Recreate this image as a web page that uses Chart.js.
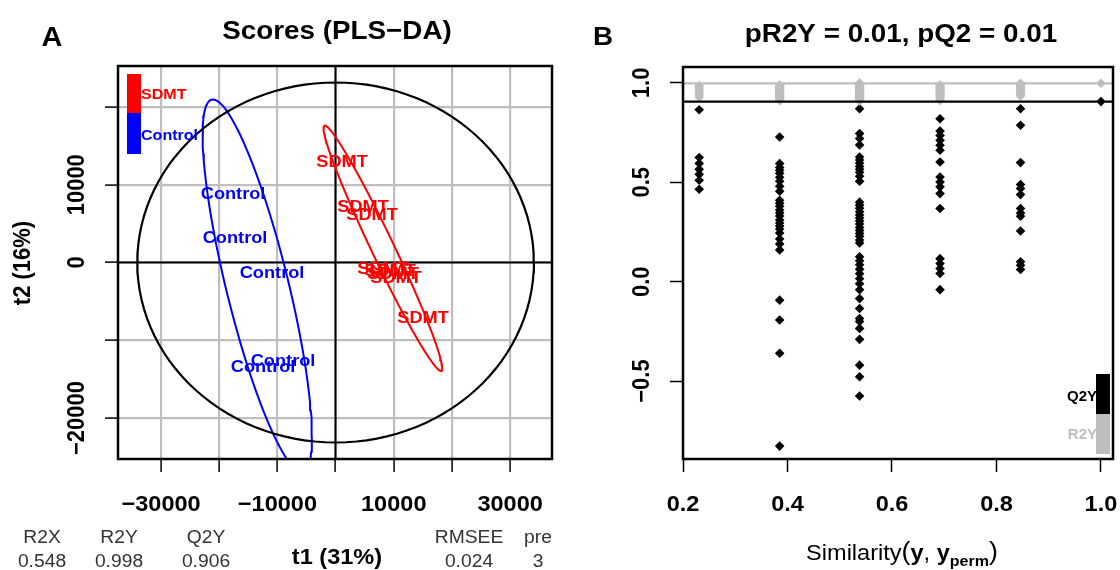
<!DOCTYPE html>
<html>
<head>
<meta charset="utf-8">
<script src="https://cdn.jsdelivr.net/npm/chart.js@4.4.1/dist/chart.umd.min.js"></script>
<style>
  html, body { margin: 0; padding: 0; background: #fff; }
  #wrap { position: relative; width: 1120px; height: 570px; overflow: hidden; background: #fff; }
  canvas { position: absolute; top: 0; }
  #scoresCanvas { left: 0; }
  #permCanvas { left: 560px; }
</style>
</head>
<body>
<div id="wrap">
  <canvas id="scoresCanvas" width="560" height="570"></canvas>
  <canvas id="permCanvas" width="560" height="570"></canvas>
</div>
<script>
// ✅ A: PLS-DA スコア (t1, t2)
const controlT1 = [-17620, -17280, -10920, -9030, -12460];
const controlT2 = [8940, 3280, -1220, -12540, -13310];
// SDMT は中央付近でラベルが 4 つ重なっている
const sdmtT1 = [1120, 4730, 6280, 8170, 9370, 9880, 10400, 15040];
const sdmtT2 = [13050, 7270, 6240, -710, -960, -1350, -1860, -7010];

const t1Ticks = [-30000, -20000, -10000, 0, 10000, 20000, 30000];
const t1TickLabels = ['\u221230000', '', '\u221210000', '', '10000', '', '30000'];
const t2Ticks = [-20000, -10000, 0, 10000, 20000];
const t2TickLabels = ['\u221220000', '', '0', '10000', ''];

const modelStatNames = ['R2X', 'R2Y', 'Q2Y', 'RMSEE', 'pre'];
const modelStatValues = ['0.548', '0.998', '0.906', '0.024', '3'];

// ✅ B: 並べ替え検定 (similarity ごとの R2Y / Q2Y)
const simValues = [0.231, 0.385, 0.538, 0.692, 0.846, 1.0];
const q2yBySim = [
  [0.865, 0.625, 0.595, 0.565, 0.54, 0.51, 0.465],
  [0.728, 0.594, 0.575, 0.56, 0.545, 0.525, 0.505, 0.48, 0.455, 0.41, 0.395, 0.38, 0.36, 0.345,
   0.33, 0.31, 0.295, 0.28, 0.265, 0.245, 0.215, 0.19, 0.16, -0.093, -0.193, -0.36, -0.827],
  [0.87, 0.745, 0.72, 0.688, 0.627, 0.612, 0.597, 0.58, 0.565, 0.55, 0.53, 0.505, 0.4, 0.385,
   0.37, 0.352, 0.335, 0.32, 0.305, 0.29, 0.272, 0.258, 0.243, 0.228, 0.21, 0.195, 0.125, 0.105,
   0.085, 0.063, 0.04, 0.015, -0.01, -0.04, -0.085, -0.135, -0.185, -0.2, -0.235, -0.29, -0.42,
   -0.478, -0.575],
  [0.82, 0.758, 0.736, 0.711, 0.686, 0.661, 0.602, 0.527, 0.502, 0.477, 0.443, 0.368, 0.116,
   0.091, 0.066, 0.041, -0.04],
  [0.87, 0.787, 0.599, 0.489, 0.469, 0.438, 0.368, 0.346, 0.329, 0.255, 0.1, 0.083, 0.061],
  [0.906]
];
const r2yBySim = [
  [0.987, 0.981, 0.972, 0.963, 0.951, 0.94, 0.928],
  [0.989, 0.987, 0.984, 0.983, 0.98, 0.977, 0.975, 0.971, 0.97, 0.966, 0.963, 0.962, 0.958, 0.955,
   0.952, 0.95, 0.946, 0.944, 0.94, 0.937, 0.933, 0.929, 0.926, 0.921, 0.918, 0.914, 0.911],
  [0.999, 0.997, 0.995, 0.993, 0.99, 0.988, 0.986, 0.983, 0.981, 0.979, 0.976, 0.974, 0.972, 0.97,
   0.967, 0.965, 0.962, 0.96, 0.958, 0.955, 0.953, 0.95, 0.948, 0.946, 0.943, 0.941, 0.938, 0.936,
   0.934, 0.931, 0.929, 0.927, 0.925, 0.923, 0.921, 0.919, 0.917, 0.915, 0.914, 0.913, 0.912,
   0.911, 0.91],
  [0.99, 0.985, 0.981, 0.977, 0.972, 0.968, 0.963, 0.959, 0.954, 0.95, 0.945, 0.94, 0.936, 0.93,
   0.925, 0.918, 0.912],
  [0.998, 0.994, 0.99, 0.986, 0.981, 0.976, 0.971, 0.966, 0.96, 0.954, 0.948, 0.941, 0.934],
  [0.998]
];
const modelR2Y = 0.998;
const modelQ2Y = 0.906;
const simTicks = [0.2, 0.4, 0.6, 0.8, 1.0];
const simTickLabels = ['0.2', '0.4', '0.6', '0.8', '1.0'];
const permYTicks = [-0.5, 0, 0.5, 1.0];
const permYTickLabels = ['\u22120.5', '0.0', '0.5', '1.0'];

const FONT = "'Liberation Sans', Arial, Helvetica, sans-serif";
const STRETCH = 1.07;   // 元画像は横方向に少し伸びているので文字も合わせる
const RED = '#ff0000';
const BLUE = '#0000ff';
const GREY = '#bebebe';

// 95% 楕円の係数
const CHISQ_K = Math.sqrt(5.991);   // sqrt(qchisq(0.95, 2))
const F_095_2_11 = 3.9823;          // qf(0.95, 2, n - 2), n = 13

function mean(a) {
    return a.reduce((s, v) => s + v, 0) / a.length;
}

function toPoints(xs, ys) {
    return xs.map((v, i) => ({ x: v, y: ys[i] }));
}

// グループの共分散から楕円を作る (R の chol と同じ上三角)
function groupEllipse(xs, ys, k) {
    const mx = mean(xs), my = mean(ys), n = xs.length;
    let sxx = 0, syy = 0, sxy = 0;
    for (let i = 0; i < n; i++) {
        const dx = xs[i] - mx, dy = ys[i] - my;
        sxx += dx * dx; syy += dy * dy; sxy += dx * dy;
    }
    sxx /= n - 1; syy /= n - 1; sxy /= n - 1;
    const a = Math.sqrt(sxx), b = sxy / a, c = Math.sqrt(syy - b * b);
    const pts = [];
    for (let i = 0; i <= 120; i++) {
        const t = 2 * Math.PI * i / 120;
        pts.push({ x: mx + k * a * Math.cos(t), y: my + k * (b * Math.cos(t) + c * Math.sin(t)) });
    }
    return pts;
}

// 全体の Hotelling T2 楕円 (原点中心)
function hotellingEllipse(xs, ys, fq) {
    const n = xs.length;
    const hot = (n - 1) * 2 * (n * n - 1) / (n * n * (n - 2)) * fq;
    const mx = mean(xs), my = mean(ys);
    const sx = Math.sqrt(xs.reduce((s, v) => s + (v - mx) * (v - mx), 0) / (n - 1));
    const sy = Math.sqrt(ys.reduce((s, v) => s + (v - my) * (v - my), 0) / (n - 1));
    const pts = [];
    for (let i = 0; i <= 120; i++) {
        const t = 2 * Math.PI * i / 120;
        pts.push({ x: Math.sqrt(hot) * sx * Math.cos(t), y: Math.sqrt(hot) * sy * Math.sin(t) });
    }
    return pts;
}

function putText(ctx, str, x, y, font, color, align, rotate) {
    ctx.save();
    ctx.font = font;
    ctx.fillStyle = color;
    ctx.textAlign = align || 'center';
    ctx.textBaseline = 'alphabetic';
    ctx.translate(x, y);
    ctx.scale(STRETCH, 1);
    if (rotate) ctx.rotate(-Math.PI / 2);
    ctx.fillText(str, 0, 0);
    ctx.restore();
}

function drawBox(ctx, a) {
    ctx.save();
    ctx.strokeStyle = '#000';
    ctx.lineWidth = 2.5;
    ctx.strokeRect(a.left, a.top, a.right - a.left, a.bottom - a.top);
    ctx.restore();
}

function fixedTicks(values) {
    return scale => { scale.ticks = values.map(v => ({ value: v })); };
}

// ---------- A ----------
const allT1 = controlT1.concat(sdmtT1);
const allT2 = controlT2.concat(sdmtT2);

const scoresDecor = {
    id: 'scoresDecor',
    beforeDatasetsDraw(chart) {
        const { ctx, chartArea: a, scales: { x, y } } = chart;
        const x0 = x.getPixelForValue(0), y0 = y.getPixelForValue(0);
        ctx.save();
        ctx.strokeStyle = '#000';
        ctx.lineWidth = 2;
        ctx.beginPath();
        ctx.moveTo(x0, a.top); ctx.lineTo(x0, a.bottom);
        ctx.moveTo(a.left, y0); ctx.lineTo(a.right, y0);
        ctx.stroke();
        ctx.restore();
    },
    afterDatasetsDraw(chart) {
        const ctx = chart.ctx;
        chart.data.datasets.forEach((ds, i) => {
            if (!ds.pointText) return;
            chart.getDatasetMeta(i).data.forEach(pt => {
                putText(ctx, ds.pointText, pt.x, pt.y + 6, 'bold 17px ' + FONT, ds.textColor);
            });
        });
    },
    afterDraw(chart) {
        const { ctx, chartArea: a, scales: { x, y } } = chart;
        drawBox(ctx, a);

        // 凡例
        ctx.fillStyle = RED;
        ctx.fillRect(127, 74, 14, 39);
        ctx.fillStyle = BLUE;
        ctx.fillRect(127, 113, 14, 41);
        putText(ctx, 'SDMT', 141, 99, 'bold 15px ' + FONT, RED, 'left');
        putText(ctx, 'Control', 141, 140, 'bold 15px ' + FONT, BLUE, 'left');

        // 目盛りラベル
        t1Ticks.forEach((v, i) => {
            if (t1TickLabels[i]) putText(ctx, t1TickLabels[i], x.getPixelForValue(v), 511, 'bold 22px ' + FONT, '#000');
        });
        t2Ticks.forEach((v, i) => {
            if (t2TickLabels[i]) putText(ctx, t2TickLabels[i], 84, y.getPixelForValue(v), 'bold 22px ' + FONT, '#000', 'center', true);
        });

        putText(ctx, 'A', 52, 46, 'bold 27px ' + FONT, '#000');
        putText(ctx, 'Scores (PLS\u2212DA)', 337, 39, 'bold 26px ' + FONT, '#000');
        putText(ctx, 't2 (16%)', 30, 263, 'bold 22px ' + FONT, '#000', 'center', true);
        putText(ctx, 't1 (31%)', 337, 564, 'bold 22px ' + FONT, '#000');

        const statX = [42, 119, 206, 469, 538];
        modelStatNames.forEach((s, i) => {
            putText(ctx, s, statX[i], 543, '18px ' + FONT, '#333');
            putText(ctx, modelStatValues[i], statX[i], 567, '18px ' + FONT, '#333');
        });
    }
};

new Chart(document.getElementById('scoresCanvas'), {
    type: 'scatter',
    data: {
        datasets: [
            { data: toPoints(controlT1, controlT2), pointRadius: 0, pointText: 'Control', textColor: BLUE },
            { data: toPoints(sdmtT1, sdmtT2), pointRadius: 0, pointText: 'SDMT', textColor: RED },
            { data: hotellingEllipse(allT1, allT2, F_095_2_11), showLine: true, borderColor: '#000', borderWidth: 2.2, pointRadius: 0, tension: 0 },
            { data: groupEllipse(sdmtT1, sdmtT2, CHISQ_K), showLine: true, borderColor: RED, borderWidth: 2, pointRadius: 0, tension: 0 },
            { data: groupEllipse(controlT1, controlT2, CHISQ_K), showLine: true, borderColor: BLUE, borderWidth: 2, pointRadius: 0, tension: 0 }
        ]
    },
    options: {
        responsive: false,
        animation: false,
        events: [],
        layout: { padding: { left: 0, right: 8, top: 66, bottom: 0 } },
        plugins: { legend: { display: false }, tooltip: { enabled: false } },
        scales: {
            x: {
                type: 'linear', min: -37400, max: 37200,
                afterBuildTicks: fixedTicks(t1Ticks),
                afterFit: s => { s.height = 111; },
                ticks: { display: false },
                border: { display: false },
                grid: { color: GREY, lineWidth: 2.2, drawTicks: true, tickLength: 13, tickColor: '#000', tickWidth: 1.5 }
            },
            y: {
                type: 'linear', min: -25270, max: 25270,
                afterBuildTicks: fixedTicks(t2Ticks),
                afterFit: s => { s.width = 118; },
                ticks: { display: false },
                border: { display: false },
                grid: { color: GREY, lineWidth: 2.2, drawTicks: true, tickLength: 13, tickColor: '#000', tickWidth: 1.5 }
            }
        }
    },
    plugins: [scoresDecor]
});

// ---------- B ----------
function permPoints(bySim) {
    const pts = [];
    bySim.forEach((col, i) => col.forEach(v => pts.push({ x: simValues[i], y: v })));
    return pts;
}

const SIM_MIN = 0.2, SIM_MAX = 1.023;

const permDecor = {
    id: 'permDecor',
    afterDraw(chart) {
        const { ctx, chartArea: a, scales: { x, y } } = chart;
        drawBox(ctx, a);

        simTicks.forEach((v, i) => putText(ctx, simTickLabels[i], x.getPixelForValue(v), 511, 'bold 22px ' + FONT, '#000'));
        permYTicks.forEach((v, i) => putText(ctx, permYTickLabels[i], 89, y.getPixelForValue(v), 'bold 22px ' + FONT, '#000', 'center', true));

        putText(ctx, 'B', 43, 45, 'bold 26px ' + FONT, '#000');
        putText(ctx, 'pR2Y = 0.01, pQ2 = 0.01', 341, 42, 'bold 26px ' + FONT, '#000');

        // 凡例
        ctx.fillStyle = '#000';
        ctx.fillRect(536, 374, 14, 40);
        ctx.fillStyle = GREY;
        ctx.fillRect(536, 414, 14, 40);
        putText(ctx, 'Q2Y', 537, 401, 'bold 14px ' + FONT, '#000', 'right');
        putText(ctx, 'R2Y', 537, 439, 'bold 14px ' + FONT, GREY, 'right');

        // 軸タイトル Similarity(y, y_perm)
        const parts = [
            { t: 'Similarity', f: '22px ' + FONT, dy: 0 },
            { t: '(', f: '25px ' + FONT, dy: 0 },
            { t: 'y', f: 'bold 22px ' + FONT, dy: 0 },
            { t: ', ', f: '22px ' + FONT, dy: 0 },
            { t: 'y', f: 'bold 22px ' + FONT, dy: 0 },
            { t: 'perm', f: 'bold 15px ' + FONT, dy: 6 },
            { t: ')', f: '25px ' + FONT, dy: 0 }
        ];
        let total = 0;
        parts.forEach(p => { ctx.font = p.f; p.w = ctx.measureText(p.t).width * STRETCH; total += p.w; });
        let cx = 342 - total / 2;
        parts.forEach(p => {
            putText(ctx, p.t, cx, 560 + p.dy, p.f, '#000', 'left');
            cx += p.w;
        });
    }
};

new Chart(document.getElementById('permCanvas'), {
    type: 'scatter',
    data: {
        datasets: [
            { data: [{ x: SIM_MIN, y: modelR2Y }, { x: SIM_MAX, y: modelR2Y }], showLine: true, borderColor: GREY, borderWidth: 2.2, pointRadius: 0 },
            { data: [{ x: SIM_MIN, y: modelQ2Y }, { x: SIM_MAX, y: modelQ2Y }], showLine: true, borderColor: '#000', borderWidth: 2.2, pointRadius: 0 },
            { data: permPoints(r2yBySim), pointStyle: 'rectRot', pointRadius: 4.8, backgroundColor: GREY, borderWidth: 0 },
            { data: permPoints(q2yBySim), pointStyle: 'rectRot', pointRadius: 4.8, backgroundColor: '#000', borderWidth: 0 }
        ]
    },
    options: {
        responsive: false,
        animation: false,
        events: [],
        layout: { padding: { left: 0, right: 7, top: 67, bottom: 0 } },
        plugins: { legend: { display: false }, tooltip: { enabled: false } },
        scales: {
            x: {
                type: 'linear', min: SIM_MIN, max: SIM_MAX,
                afterBuildTicks: fixedTicks(simTicks),
                afterFit: s => { s.height = 111; },
                ticks: { display: false },
                border: { display: false },
                grid: { drawOnChartArea: false, drawTicks: true, tickLength: 13, tickColor: '#000', tickWidth: 1.5 }
            },
            y: {
                type: 'linear', min: -0.892, max: 1.08,
                afterBuildTicks: fixedTicks(permYTicks),
                afterFit: s => { s.width = 123; },
                ticks: { display: false },
                border: { display: false },
                grid: { drawOnChartArea: false, drawTicks: true, tickLength: 13, tickColor: '#000', tickWidth: 1.5 }
            }
        }
    },
    plugins: [permDecor]
});
</script>
</body>
</html>
